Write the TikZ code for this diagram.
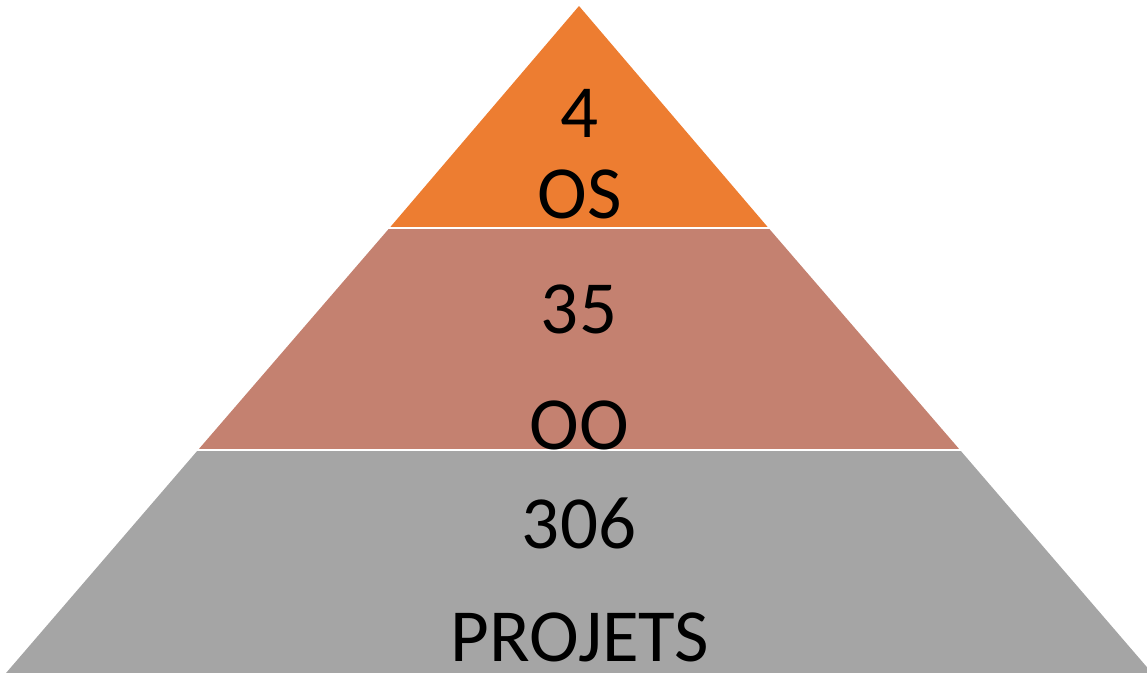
\documentclass[tikz,border=0pt]{standalone}
\usepackage{fontspec}
\setmainfont{Carlito}
\definecolor{tierA}{HTML}{ED7D31}
\definecolor{tierB}{HTML}{C48170}
\definecolor{tierC}{HTML}{A5A5A5}
\begin{document}
\begin{tikzpicture}[x=1pt,y=-1pt,
  lbl/.style={anchor=base,inner sep=0pt,font=\fontsize{75}{80}\selectfont,text=black},
  gap/.style={white,line width=2.2pt}]
\useasboundingbox (0,0) rectangle (1147,672);
\begin{scope}
\clip (0,0) rectangle (1147,672);
\coordinate (apex) at (579,6);
\fill[tierA] (apex) -- (389.5,228) -- (768.5,228) -- cycle;
\fill[tierB] (389.5,228) -- (768.5,228) -- (960,450) -- (198,450) -- cycle;
\fill[tierC] (198,450) -- (960,450) -- (1158,680) -- (0,680) -- cycle;
\draw[gap] (380,228) -- (780,228);
\draw[gap] (190,450) -- (970,450);
\end{scope}
\node[lbl] (n4) at (579,137) {4};
\node[lbl] (os) at (580,218) {OS};
\node[lbl] (n35) at (579,333) {35};
\node[lbl] (oo) at (579,449) {OO};
\node[lbl] (n306) at (579,548) {306};
\node[lbl] (proj) at (580,661) {PROJETS};
\end{tikzpicture}
\end{document}
